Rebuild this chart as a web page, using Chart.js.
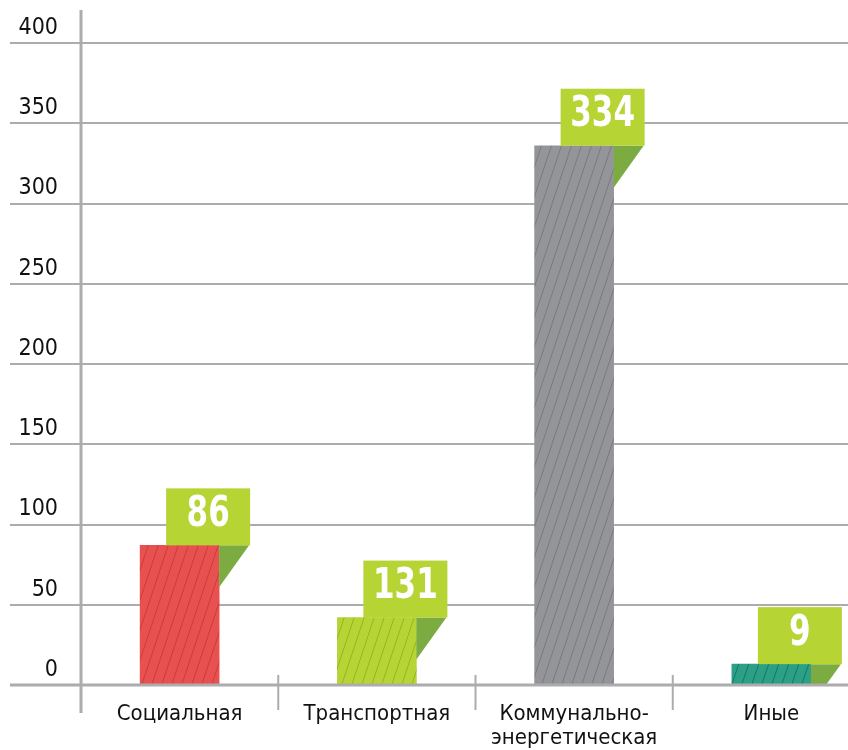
<!DOCTYPE html>
<html>
<head>
<meta charset="utf-8">
<script src="https://cdn.jsdelivr.net/npm/chart.js@4.4.0/dist/chart.umd.min.js"></script>
<style>
  body { margin: 0; overflow: hidden; background: #fff; }
</style>
</head>
<body>
<canvas id="debtChart" width="870" height="750"></canvas>
<script>
const categories = ['Социальная', 'Транспортная', ['Коммунально-', 'энергетическая'], 'Иные'];
// bar heights as drawn, and the numbers printed in the green flags
const barValues = [87, 42, 336, 13];
const flagLabels = ['86', '131', '334', '9'];
const barColors = ['#e8514f', '#b6d433', '#939598', '#2ba086'];
const hatchColors = ['#c4403d', '#97b328', '#797b7e', '#1c7563'];

const FONT = '"DejaVu Sans Condensed", "Liberation Sans Narrow", sans-serif';
const GRID = '#acacae';

// diagonal "/" hatching
function hatch(base, line) {
    const c = document.createElement('canvas');
    c.width = 10;
    c.height = 30;
    const g = c.getContext('2d');
    g.fillStyle = base;
    g.fillRect(0, 0, 10, 30);
    g.strokeStyle = line;
    g.lineWidth = 1;
    for (let n = 0; n <= 2; n++) {
        g.beginPath();
        g.moveTo(-2, 30 * n + 6);
        g.lineTo(12, 30 * n - 36);
        g.stroke();
    }
    return g.createPattern(c, 'repeat');
}

const flags = {
    id: 'flags',
    afterDatasetsDraw(chart) {
        const ctx = chart.ctx;
        const area = chart.chartArea;
        const x = chart.scales.x;
        const meta = chart.getDatasetMeta(0);

        meta.data.forEach((bar, i) => {
            const right = bar.x + bar.width / 2;
            const left = bar.x - bar.width / 2 + 26;
            const w = 84, h = 57;

            // folded corner under the flag
            ctx.save();
            ctx.beginPath();
            ctx.rect(0, 0, chart.width, area.bottom);
            ctx.clip();
            ctx.fillStyle = '#7cab42';
            ctx.beginPath();
            ctx.moveTo(right, bar.y);
            ctx.lineTo(right + 30, bar.y);
            ctx.lineTo(right, bar.y + 42);
            ctx.closePath();
            ctx.fill();
            ctx.restore();

            ctx.fillStyle = '#b6d433';
            ctx.fillRect(left, bar.y - h, w, h);

            // narrow the number to look like the condensed face
            ctx.save();
            ctx.translate(left + w / 2, bar.y - h / 2 - 2);
            ctx.scale(0.82, 1);
            ctx.fillStyle = '#ffffff';
            ctx.font = 'bold 42px ' + FONT;
            ctx.textAlign = 'center';
            ctx.textBaseline = 'middle';
            ctx.fillText(flagLabels[i], 0, 0);
            ctx.restore();
        });

        ctx.save();
        ctx.strokeStyle = GRID;
        ctx.lineWidth = 3;
        // zero line
        ctx.beginPath();
        ctx.moveTo(10, area.bottom);
        ctx.lineTo(chart.width, area.bottom);
        ctx.stroke();
        // vertical axis, runs past both ends
        ctx.beginPath();
        ctx.moveTo(area.left, 10);
        ctx.lineTo(area.left, area.bottom + 28);
        ctx.stroke();
        // category separators
        ctx.lineWidth = 2;
        for (let i = 1; i < categories.length; i++) {
            const sx = (x.getPixelForValue(i - 1) + x.getPixelForValue(i)) / 2;
            ctx.beginPath();
            ctx.moveTo(sx, area.bottom - 10);
            ctx.lineTo(sx, area.bottom + 25);
            ctx.stroke();
        }
        ctx.restore();
    }
};

const ctx = document.getElementById('debtChart').getContext('2d');

new Chart(ctx, {
    type: 'bar',
    data: {
        labels: categories,
        datasets: [{
            data: barValues,
            backgroundColor: barColors.map((c, i) => hatch(c, hatchColors[i])),
            borderWidth: 0,
            barThickness: 79,
        }],
    },
    options: {
        responsive: false,
        animation: false,
        layout: { padding: { top: 43, left: 0, right: 0, bottom: 0 } },
        plugins: {
            legend: { display: false },
            tooltip: { enabled: false },
        },
        scales: {
            x: {
                grid: { display: false, drawTicks: false },
                border: { display: false },
                ticks: {
                    color: '#111',
                    padding: 17,
                    font: { family: FONT, size: 22, lineHeight: 1.1 },
                },
                afterFit: (s) => { s.height = 65; },
            },
            y: {
                min: 0,
                max: 400,
                grid: { color: GRID, lineWidth: 2, tickLength: 71 },
                border: { display: false },
                ticks: {
                    stepSize: 50,
                    color: '#111',
                    padding: -48,
                    labelOffset: -15,
                    font: { family: FONT, size: 23 },
                },
                afterFit: (s) => { s.width = 81; },
            },
        },
    },
    plugins: [flags],
});
</script>
</body>
</html>
